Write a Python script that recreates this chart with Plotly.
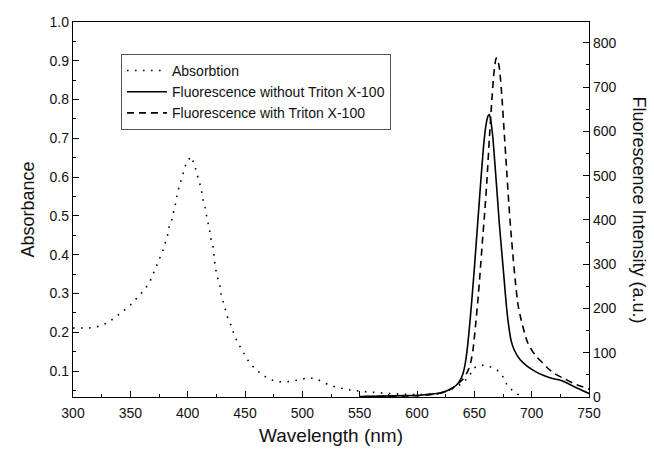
import plotly.graph_objects as go

# Absorption spectrum (left axis)
abs_wl = [300, 314, 322, 329, 336, 343, 350, 356, 362, 367, 370, 373, 376, 379, 381, 383, 384, 387, 388,
          390, 391, 393, 395, 397, 399, 403, 406, 408, 410, 412, 413, 415, 417, 419, 420, 422, 423, 424,
          426, 428, 429, 431, 433, 435, 438, 440, 443, 447, 452, 458, 465, 472, 480, 490, 500, 506, 512,
          520, 530, 540, 550, 560, 575, 590, 600, 610, 620, 628, 635, 640, 646, 649, 653, 658, 663, 670,
          675, 679, 684, 690, 695]
abs_val = [0.211, 0.211, 0.215, 0.223, 0.236, 0.253, 0.270, 0.289, 0.308, 0.330, 0.351, 0.372, 0.393,
           0.415, 0.436, 0.455, 0.476, 0.495, 0.517, 0.537, 0.559, 0.579, 0.602, 0.620, 0.639, 0.653,
           0.631, 0.610, 0.589, 0.568, 0.546, 0.525, 0.491, 0.466, 0.444, 0.423, 0.398, 0.368, 0.342,
           0.321, 0.300, 0.279, 0.257, 0.236, 0.217, 0.198, 0.177, 0.155, 0.130, 0.108, 0.090, 0.078,
           0.072, 0.073, 0.080, 0.083, 0.080, 0.068, 0.058, 0.052, 0.048, 0.045, 0.042, 0.040, 0.039,
           0.040, 0.042, 0.050, 0.061, 0.069, 0.089, 0.107, 0.113, 0.115, 0.112, 0.102, 0.085, 0.061,
           0.048, 0.036, 0.030]

# Fluorescence without Triton X-100 (right axis)
f1_wl = [550, 570, 590, 603, 610, 620, 625, 630, 634, 637, 640, 642, 644, 646, 648, 650, 652, 654, 656, 658,
         660, 662, 663, 664, 666, 668, 670, 672, 674, 676, 678, 680, 682, 685, 690, 696, 703, 710,
         718, 727, 738, 750]
f1_val = [1, 2, 3, 4, 6, 9, 13, 19, 26, 35, 52, 75, 112, 165, 225, 290, 360, 430, 500, 565,
          612, 635, 638, 630, 590, 525, 455, 385, 325, 265, 205, 160, 128, 105, 84, 70, 58, 49,
          42, 36, 22, 8]

# Fluorescence with Triton X-100 (right axis)
f2_wl = [555, 580, 600, 615, 625, 632, 636, 640, 643, 645, 647, 649, 651, 653, 655, 657, 659, 661, 663,
         665, 667, 669, 670, 672, 674, 676, 678, 680, 682, 684, 686, 688, 691, 696, 700, 705,
         710, 714, 720, 727, 738, 750]
f2_val = [1, 2, 3, 6, 12, 22, 31, 40, 52, 63, 80, 110, 160, 215, 280, 350, 415, 490, 580,
          660, 730, 765, 765, 740, 680, 600, 520, 440, 370, 310, 255, 210, 172, 126, 106, 89,
          76, 65, 53, 43, 29, 18]

FONT = "Arial, Liberation Sans, sans-serif"

fig = go.Figure()
fig.add_trace(go.Scatter(x=abs_wl, y=abs_val, mode="lines", name="Absorbtion",
                         line=dict(color="black", width=1.6, dash="1.6px,6.4px"), yaxis="y"))
fig.add_trace(go.Scatter(x=f1_wl, y=f1_val, mode="lines", name="Fluorescence without Triton X-100",
                         line=dict(color="black", width=1.6, shape="spline", smoothing=0.5), yaxis="y2"))
fig.add_trace(go.Scatter(x=f2_wl, y=f2_val, mode="lines", name="Fluorescence with Triton X-100",
                         line=dict(color="black", width=1.6, dash="7px,5px", shape="spline", smoothing=0.5),
                         yaxis="y2"))

axis_common = dict(showline=True, linecolor="black", linewidth=1.3, ticks="inside", ticklen=6,
                   tickwidth=1.3, tickcolor="black", showgrid=False, zeroline=False,
                   tickfont=dict(family=FONT, size=14, color="#111"))

fig.update_layout(
    width=654, height=454,
    margin=dict(l=73, r=65, t=22, b=55),
    paper_bgcolor="white", plot_bgcolor="white",
    showlegend=True,
    legend=dict(x=0.093, y=0.915, xanchor="left", yanchor="top", itemwidth=40,
                bordercolor="#555", borderwidth=1, bgcolor="rgba(255,255,255,0)",
                font=dict(family=FONT, size=14, color="#111"), tracegroupgap=0),
    xaxis=dict(range=[300, 750], dtick=50, tick0=300, mirror=True, ticklabelstandoff=3,
               minor=dict(dtick=25, ticks="inside", ticklen=3, tickcolor="black", tickwidth=1.2),
               title=dict(text="Wavelength (nm)", font=dict(family=FONT, size=19, color="#111"), standoff=8),
               **axis_common),
    yaxis=dict(range=[0.033, 1.0], dtick=0.1, tick0=0.1, tickformat=".1f",
               minor=dict(dtick=0.05, ticks="inside", ticklen=3, tickcolor="black", tickwidth=1.2),
               title=dict(text="Absorbance", font=dict(family=FONT, size=18, color="#111"), standoff=10),
               **axis_common),
    yaxis2=dict(range=[0, 847], dtick=100, tick0=0, overlaying="y", side="right",
                minor=dict(dtick=50, ticks="inside", ticklen=3, tickcolor="black", tickwidth=1.2),
                **axis_common),
    annotations=[dict(text="Fluorescence Intensity (a.u.)", textangle=90, xref="paper", yref="paper",
                      x=1.0, xshift=50, y=0.5, showarrow=False, xanchor="center", yanchor="middle",
                      font=dict(family=FONT, size=18, color="#111"))],
)

fig.write_html("out.html")
